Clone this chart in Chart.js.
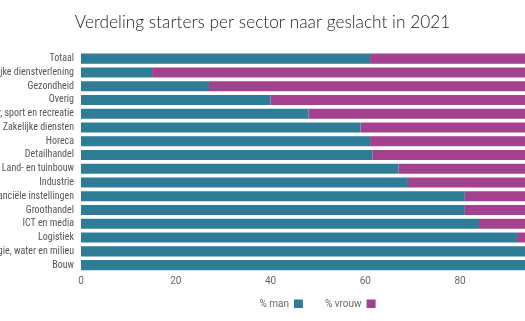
<!DOCTYPE html>
<html>
<head>
<meta charset="utf-8">
<script src="https://cdn.jsdelivr.net/npm/chart.js@4"></script>
<style>
  html, body { margin: 0; padding: 0; background: #fff; overflow: hidden; }
  #wrap { width: 525px; height: 321px; position: relative; }
</style>
</head>
<body>
<div id="wrap"><canvas id="c"></canvas></div>
<script>
const categories = [
  "Totaal",
  "Persoonlijke dienstverlening",
  "Gezondheid",
  "Overig",
  "Cultuur, sport en recreatie",
  "Zakelijke diensten",
  "Horeca",
  "Detailhandel",
  "Land- en tuinbouw",
  "Industrie",
  "Financiële instellingen",
  "Groothandel",
  "ICT en media",
  "Logistiek",
  "Energie, water en milieu",
  "Bouw"
];
const pctMan =   [61, 15, 27, 40, 48, 59, 61, 61.5, 67, 69, 81, 81, 84, 92, 96, 97];
const pctVrouw = [39, 85, 73, 60, 52, 41, 39, 38.5, 33, 31, 19, 19, 16, 8, 4, 3];
const seriesNames = ["% man", "% vrouw"];
const xTicks = [0, 20, 40, 60, 80, 100];
const titleText = "Verdeling starters per sector naar geslacht in 2021";

// shift the legend block (layout only)
const legendShift = {
  id: 'legendShift',
  afterLayout(chart) {
    const l = chart.legend;
    if (l) {
      l.left += 55; l.right += 55;
      l.top -= 13; l.bottom -= 13;
    }
  }
};

new Chart(document.getElementById('c'), {
  type: 'bar',
  data: {
    labels: categories,
    datasets: [
      { label: seriesNames[0], data: pctMan, backgroundColor: '#2e7c96', borderWidth: 0,
        barPercentage: 0.73, categoryPercentage: 1 },
      { label: seriesNames[1], data: pctVrouw, backgroundColor: '#a3418f', borderWidth: 0,
        barPercentage: 0.73, categoryPercentage: 1 }
    ]
  },
  options: {
    indexAxis: 'y',
    responsive: true,
    maintainAspectRatio: false,
    animation: false,
    layout: { padding: { left: 0, right: 0, top: 0, bottom: 0 } },
    scales: {
      x: {
        stacked: true,
        min: 0,
        max: 93.7,
        grid: { display: false, drawTicks: false },
        border: { display: false },
        afterBuildTicks(scale) {
          scale.ticks = xTicks.filter(v => v <= scale.max).map(v => ({ value: v }));
        },
        ticks: {
          color: '#666',
          font: { family: 'Roboto', size: 10 },
          padding: 3,
          maxRotation: 0
        }
      },
      y: {
        stacked: true,
        grid: { display: false, drawTicks: false },
        border: { display: false },
        afterFit(scale) { scale.width = 81; },
        ticks: {
          color: '#555',
          font: { family: "'Liberation Sans Narrow', 'Roboto Condensed', 'DejaVu Sans Condensed', Roboto", size: 10 },
          padding: 7,
          autoSkip: false
        }
      }
    },
    plugins: {
      title: {
        display: true,
        text: titleText,
        color: '#222',
        font: { family: 'Lato', size: 17.3, weight: '300' },
        padding: { top: 12, bottom: 19 }
      },
      legend: {
        position: 'bottom',
        rtl: true,
        reverse: true,
        textDirection: 'ltr',
        maxHeight: 31,
        labels: {
          color: '#666',
          font: { family: 'Roboto', size: 10 },
          boxWidth: 9,
          boxHeight: 9,
          padding: 22
        }
      },
      tooltip: { enabled: false }
    }
  },
  plugins: [legendShift]
});
</script>
</body>
</html>
